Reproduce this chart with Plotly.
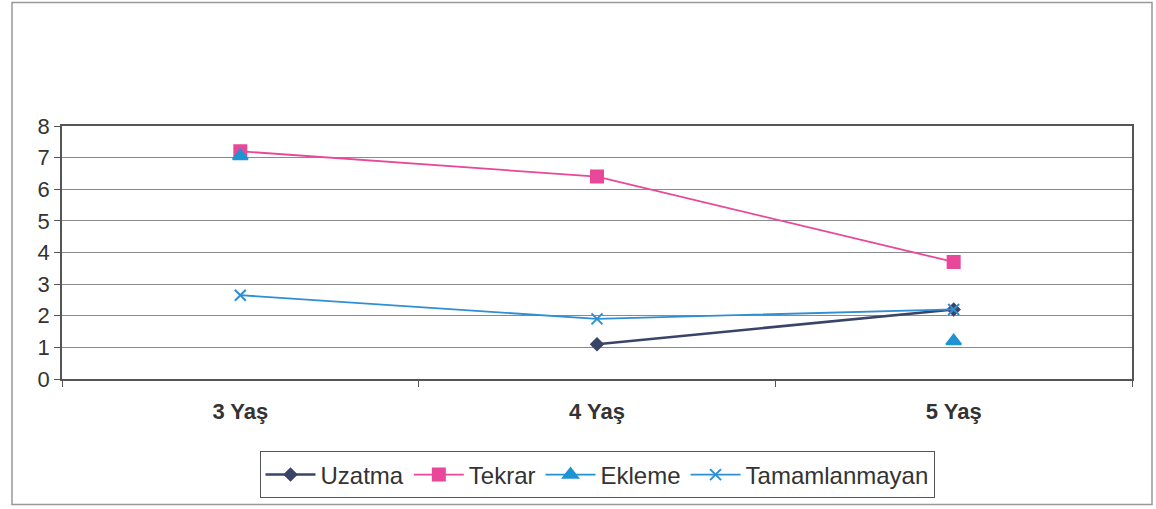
import plotly.graph_objects as go

# Age groups on the category axis
categories = ["3 Yaş", "4 Yaş", "5 Yaş"]

# Counts per disfluency type (None = no value for that age group)
uzatma = [None, 1.1, 2.2]
tekrar = [7.2, 6.4, 3.7]
ekleme = [7.05, None, 1.2]
tamamlanmayan = [2.65, 1.9, 2.2]

y_ticks = [0, 1, 2, 3, 4, 5, 6, 7, 8]

series = [
    ("Uzatma", uzatma, "#3a4468", "diamond", 9, 2.5),
    ("Tekrar", tekrar, "#e8479a", "square", 12, 1.8),
    ("Ekleme", ekleme, "#1e94d2", "triangle-up", 13, 1.8),
    ("Tamamlanmayan", tamamlanmayan, "#2f8fd2", "x-thin", 11, 1.8),
]

fig = go.Figure()
for name, vals, color, symbol, size, lw in series:
    fig.add_trace(go.Scatter(
        x=categories, y=vals, name=name, mode="lines+markers",
        line=dict(color=color, width=lw),
        marker=dict(symbol=symbol, size=size, color=color,
                    line=dict(color=color, width=2)),
        connectgaps=False,
    ))

fig.update_layout(
    width=1156, height=509,
    margin=dict(l=62, r=24, t=126, b=129),
    paper_bgcolor="white", plot_bgcolor="white",
    font=dict(family="Arial, Liberation Sans, sans-serif", color="#333333"),
    showlegend=True,
    legend=dict(
        orientation="h", x=0.50, xanchor="center", y=-0.374, yanchor="middle",
        font=dict(size=24, color="#333333"),
        bordercolor="#555555", borderwidth=1, bgcolor="white",
        itemwidth=50, tracegroupgap=0,
    ),
    xaxis=dict(
        type="category", range=[-0.5, 2.5], showgrid=False,
        showline=True, linecolor="#555555", linewidth=1.5, mirror=True,
        ticks="outside", tickson="boundaries", ticklen=6, tickcolor="#555555",
        tickfont=dict(size=22, color="#333333", weight="bold"),
        ticklabelstandoff=12,
    ),
    yaxis=dict(
        range=[0, 8], tickvals=y_ticks,
        showgrid=True, gridcolor="#8a8a8a", gridwidth=1,
        showline=True, linecolor="#555555", linewidth=1.5, mirror=True,
        ticks="outside", ticklen=6, tickcolor="#555555",
        tickfont=dict(size=22, color="#333333"),
        zeroline=False,
    ),
)

# Outer chart-area frame
fig.add_shape(type="rect", xref="paper", yref="paper",
              x0=-50 / 1070, x1=1 + 20 / 1070, y0=-126 / 254, y1=1 + 124 / 254,
              line=dict(color="#999999", width=1.5), layer="below")

fig.write_html("out.html")
